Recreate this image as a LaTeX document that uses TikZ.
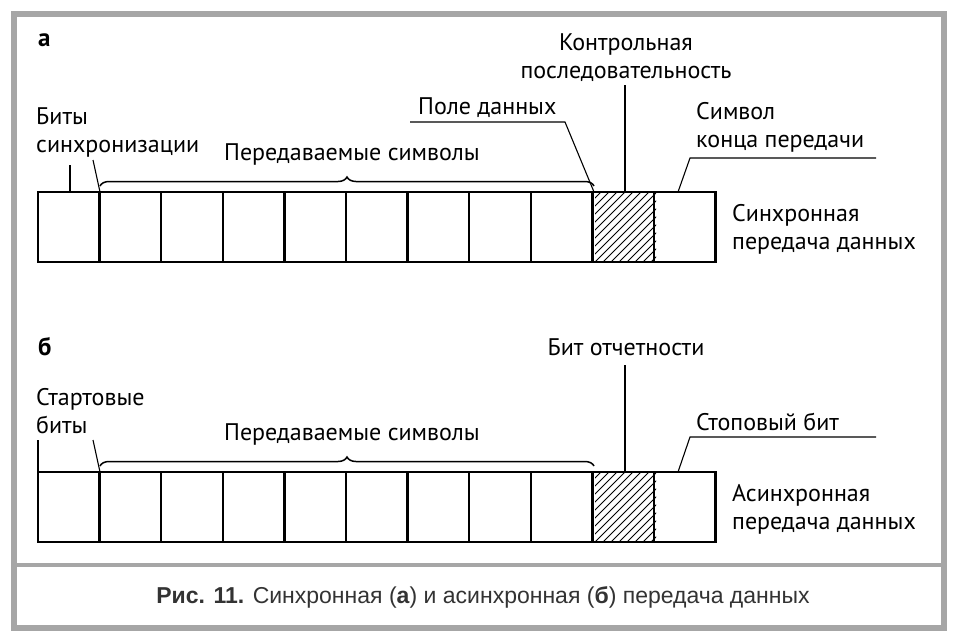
\documentclass[tikz,border=0pt]{standalone}
\usepackage{fontspec}
\setmainfont{PT Sans}
\newfontfamily\capfont{Liberation Sans}
\usetikzlibrary{positioning,decorations.pathreplacing}
\tikzset{
	lbl/.style={font=\fontsize{24}{28}\selectfont, inner sep=0, align=left},
	cell/.style={draw, line width=2.4pt},
	leader/.style={line width=1.1pt},
	brc/.style={line width=1.5pt, decorate, decoration={brace, amplitude=9pt, aspect=0.5}}
}
\begin{document}
\begin{tikzpicture}[x=1pt,y=-1pt]
	\useasboundingbox (0,0) rectangle (960,643);
	\fill[white] (0,0) rectangle (960,643);
	\draw[gray!70, line width=6pt] (14,14) rectangle (944,628);
	\draw[gray!70, line width=4pt] (14,565) -- (944,565);
	
	% two rows of cells
	\foreach \r/\y in {a/192, b/472} {
		\begin{scope}
			\clip (595,\y) rectangle (656,\y+70);
			\foreach \k in {-80,-72,...,80} {
				\draw[line width=0.9pt] (595+\k,\y+70) -- ++(70,-70);
			}
		\end{scope}
		\foreach \i in {0,...,10} {
			\draw[cell] (38+61.6*\i,\y) rectangle (38+61.6*\i+61.6,\y+70);
		}
		\coordinate (\r0) at (38,\y);
		\coordinate (\r1) at (100,\y);
		\coordinate (\r9) at (594,\y);
		\coordinate (\r10) at (625,\y);
		\coordinate (\r11) at (678,\y);
		\draw[brc] (100,\y-6) -- (594,\y-6);
	}
	
	% a
	\node[lbl, font=\bfseries\fontsize{25}{28}\selectfont, anchor=west] (la) at (38,40) {а};
	\node[lbl, align=center] (ka) at (626,58) {Контрольная\\последовательность};
	\node[lbl, anchor=west] (sync) at (36,132) {Биты\\синхронизации};
	\node[lbl] (syma) at (352,154) {Передаваемые символы};
	\node[lbl, anchor=west] (pole) at (418,108) {Поле данных};
	\node[lbl, anchor=west] (konec) at (696,127) {Символ\\конца передачи};
	\node[lbl, anchor=west] (sa) at (732,229) {Синхронная\\передача данных};
	\draw[leader] (70,165) -- (70,192);
	\draw[leader] (93,160) -- (a1);
	\draw[leader] (410,122) -- (565,122) -- (a9);
	\draw[leader] (625,85) -- (a10);
	\draw[leader] (876,158) -- (690,158) -- (a11);
	
	% b
	\node[lbl, font=\bfseries\fontsize{25}{28}\selectfont, anchor=west] (lb) at (38,347) {б};
	\node[lbl] (chet) at (626,347) {Бит отчетности};
	\node[lbl, anchor=west] (start) at (36,411) {Стартовые\\биты};
	\node[lbl] (symb) at (352,434) {Передаваемые символы};
	\node[lbl, anchor=west] (stop) at (696,422) {Стоповый бит};
	\node[lbl, anchor=west] (asa) at (732,509) {Асинхронная\\передача данных};
	\draw[leader] (38,440) -- (b0);
	\draw[leader] (93,440) -- (b1);
	\draw[leader] (625,365) -- (b10);
	\draw[leader] (876,437) -- (690,437) -- (b11);
	
	% caption
	\node[inner sep=0, font=\capfont\fontsize{23}{26}\selectfont, text=black!80] (cap) at (483,597)
		{\textbf{Рис. 11.} Синхронная (\textbf{а}) и асинхронная (\textbf{б}) передача данных};
\end{tikzpicture}
\end{document}
